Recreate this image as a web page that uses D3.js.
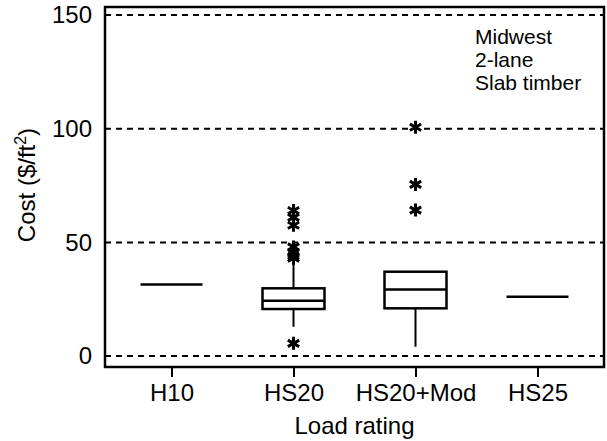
<!DOCTYPE html>
<html>
<head>
<meta charset="utf-8">
<script src="https://cdn.jsdelivr.net/npm/d3@7"></script>
<style>
body { margin: 0; background: #fff; }
text { font-family: "Liberation Sans", Arial, sans-serif; fill: #000; }
</style>
</head>
<body>
<svg id="chart" width="607" height="441"></svg>
<script>
// load ratings on the x axis
var categories = ["H10", "HS20", "HS20+Mod", "HS25"];
// box statistics, $/ft2
var whiskerLow  = [31.5, 12.9, 4.1, 26.1];
var q1          = [31.5, 20.7, 21.0, 26.1];
var median      = [31.5, 24.3, 29.3, 26.1];
var q3          = [31.5, 29.8, 37.1, 26.1];
var whiskerHigh = [31.5, 41.5, 37.1, 26.1];
// outliers drawn as asterisks
var outliers = [[], [5.6, 43, 44, 45.5, 48, 57.5, 61, 64], [64.2, 75.5, 100.6], []];
var yTicks = [0, 50, 100, 150];
var legendLines = ["Midwest", "2-lane", "Slab timber"];

(function() {
  var svg = d3.select("#chart");
  var pLeft = 105, pRight = 604, pTop = 7, pBottom = 367;
  var fontSize = "24px";

  var x = d3.scalePoint().domain(categories).range([pLeft, pRight]).padding(0.545);
  var y = d3.scaleLinear().domain([-4.8, 153.5]).range([pBottom, pTop]);

  // dashed grid lines at the ticks
  svg.selectAll(".grid").data(yTicks).enter().append("line")
    .attr("x1", pLeft).attr("x2", pRight)
    .attr("y1", d => y(d)).attr("y2", d => y(d))
    .attr("stroke", "#000").attr("stroke-width", 2)
    .attr("stroke-dasharray", "6,5");

  // y axis labels (no tick marks)
  var yAxis = svg.append("g").attr("transform", "translate(" + pLeft + ",0)")
    .call(d3.axisLeft(y).tickValues(yTicks).tickSize(0).tickPadding(13));
  yAxis.select(".domain").remove();
  yAxis.selectAll("text").style("font-size", fontSize)
    .style("font-family", "Liberation Sans, Arial, sans-serif");

  // x axis with ticks pointing down
  var xAxis = svg.append("g").attr("transform", "translate(0," + pBottom + ")")
    .call(d3.axisBottom(x).tickSize(10).tickPadding(7));
  xAxis.select(".domain").remove();
  xAxis.selectAll("line").attr("stroke-width", 2);
  xAxis.selectAll("text").style("font-size", fontSize)
    .style("font-family", "Liberation Sans, Arial, sans-serif");

  // frame
  svg.append("rect").attr("x", pLeft).attr("y", pTop)
    .attr("width", pRight - pLeft).attr("height", pBottom - pTop)
    .attr("fill", "none").attr("stroke", "#000").attr("stroke-width", 2.5);

  var half = 31;
  var g = svg.selectAll(".box").data(categories).enter().append("g");

  // whiskers
  g.append("line")
    .attr("x1", d => x(d)).attr("x2", d => x(d))
    .attr("y1", (d, i) => y(whiskerLow[i])).attr("y2", (d, i) => y(q1[i]))
    .attr("stroke", "#000").attr("stroke-width", 2);
  g.append("line")
    .attr("x1", d => x(d)).attr("x2", d => x(d))
    .attr("y1", (d, i) => y(whiskerHigh[i])).attr("y2", (d, i) => y(q3[i]))
    .attr("stroke", "#000").attr("stroke-width", 2);

  // boxes
  categories.forEach(function(c, i) {
    if (q3[i] > q1[i]) {
      svg.append("rect")
        .attr("x", x(c) - half).attr("width", half * 2)
        .attr("y", y(q3[i])).attr("height", y(q1[i]) - y(q3[i]))
        .attr("fill", "#fff").attr("stroke", "#000").attr("stroke-width", 2.5);
    }
  });

  // medians
  svg.selectAll(".med").data(categories).enter().append("line")
    .attr("x1", d => x(d) - half).attr("x2", d => x(d) + half)
    .attr("y1", (d, i) => y(median[i])).attr("y2", (d, i) => y(median[i]))
    .attr("stroke", "#000").attr("stroke-width", 2.5);

  // outlier asterisks
  var r = 6.5;
  var star = "M0," + (-r) + "L0," + r +
    "M" + (-r * 0.87) + "," + (-r * 0.5) + "L" + (r * 0.87) + "," + (r * 0.5) +
    "M" + (-r * 0.87) + "," + (r * 0.5) + "L" + (r * 0.87) + "," + (-r * 0.5);
  categories.forEach(function(c, i) {
    svg.selectAll(".out" + i).data(outliers[i]).enter().append("path")
      .attr("d", star)
      .attr("transform", d => "translate(" + x(c) + "," + y(d) + ")")
      .attr("stroke", "#000").attr("stroke-width", 3).attr("fill", "none");
  });

  // axis titles
  svg.append("text").attr("x", (pLeft + pRight) / 2).attr("y", 434)
    .attr("text-anchor", "middle").style("font-size", fontSize).text("Load rating");
  var yt = svg.append("text").attr("transform", "translate(35,185) rotate(-90)")
    .attr("text-anchor", "middle").style("font-size", fontSize);
  yt.append("tspan").text("Cost ($/ft");
  yt.append("tspan").attr("dy", -9).style("font-size", "16px").text("2");
  yt.append("tspan").attr("dy", 9).text(")");

  // legend note
  svg.selectAll(".note").data(legendLines).enter().append("text")
    .attr("x", 475).attr("y", (d, i) => 44 + i * 23)
    .style("font-size", "21px").text(d => d);
})();
</script>
</body>
</html>
